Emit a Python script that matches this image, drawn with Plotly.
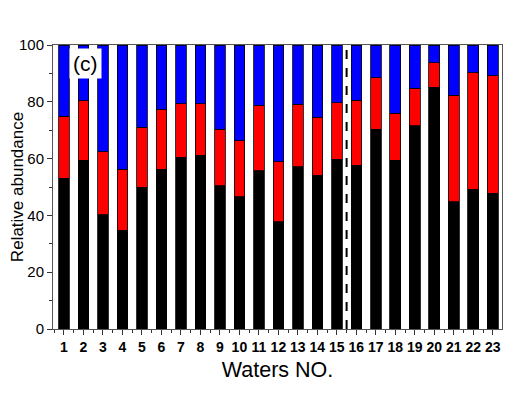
import plotly.graph_objects as go

waters = list(range(1, 24))
black_part = [53.0, 59.5, 40.2, 34.7, 49.9, 56.2, 60.4, 61.2, 50.4, 46.6, 55.7, 37.8,
              57.1, 54.1, 59.8, 57.7, 70.3, 59.5, 71.5, 85.2, 44.8, 49.2, 47.8]
red_top = [75.0, 80.3, 62.4, 56.3, 71.1, 77.4, 79.4, 79.4, 70.3, 66.2, 78.8, 58.9,
           79.2, 74.5, 79.6, 80.6, 88.4, 75.9, 84.7, 93.7, 82.3, 90.2, 89.2]
red_part = [round(r - b, 1) for r, b in zip(red_top, black_part)]
blue_part = [round(100 - r, 1) for r in red_top]

fig = go.Figure()
for vals, col in [(black_part, "#000000"), (red_part, "#ff0000"), (blue_part, "#0000ff")]:
    fig.add_trace(go.Bar(x=waters, y=vals, marker=dict(color=col, line=dict(color="#000000", width=0.8)),
                         width=0.55, showlegend=False))

fig.add_shape(type="line", x0=15.5, x1=15.5, y0=0, y1=100, xref="x", yref="y",
              line=dict(color="#000000", width=2, dash="dash"))

fig.add_annotation(x=0.035, y=0.99, xref="paper", yref="paper", xanchor="left", yanchor="top",
                   text="(c)", showarrow=False, bgcolor="white",
                   font=dict(family="Liberation Sans, Arial", size=21, color="black"),
                   borderpad=3)

fig.update_layout(
    barmode="stack",
    width=520, height=396,
    margin=dict(l=45, r=26, t=37, b=75),
    plot_bgcolor="white", paper_bgcolor="white",
    font=dict(family="Liberation Sans, Arial", color="black"),
    bargap=0.45,
)
fig.update_xaxes(
    range=[0.44, 23.47], tickmode="array", tickvals=waters, ticktext=[str(w) for w in waters],
    ticks="outside", ticklen=5, tickwidth=1, tickcolor="#333",
    minor=dict(tickvals=[w + 0.5 for w in range(0, 24)], ticks="outside", ticklen=3, tickcolor="#333"),
    showline=True, linecolor="#555", linewidth=1, mirror=True, showgrid=False,
    tickfont=dict(size=14, family="Liberation Sans, Arial", weight="bold"),
    title=dict(text="Waters NO.", font=dict(size=21.5), standoff=8),
    automargin=False,
)
fig.update_yaxes(
    range=[0, 100], tickvals=[0, 20, 40, 60, 80, 100],
    ticks="outside", ticklen=5, tickwidth=1, tickcolor="#333",
    minor=dict(tickvals=[10, 30, 50, 70, 90], ticks="outside", ticklen=3, tickcolor="#333"),
    showline=True, linecolor="#555", linewidth=1, mirror=True, showgrid=False, zeroline=False,
    tickfont=dict(size=15),
    title=dict(text="Relative abundance", font=dict(size=17), standoff=4),
    automargin=False,
)

fig.write_html("out.html")
